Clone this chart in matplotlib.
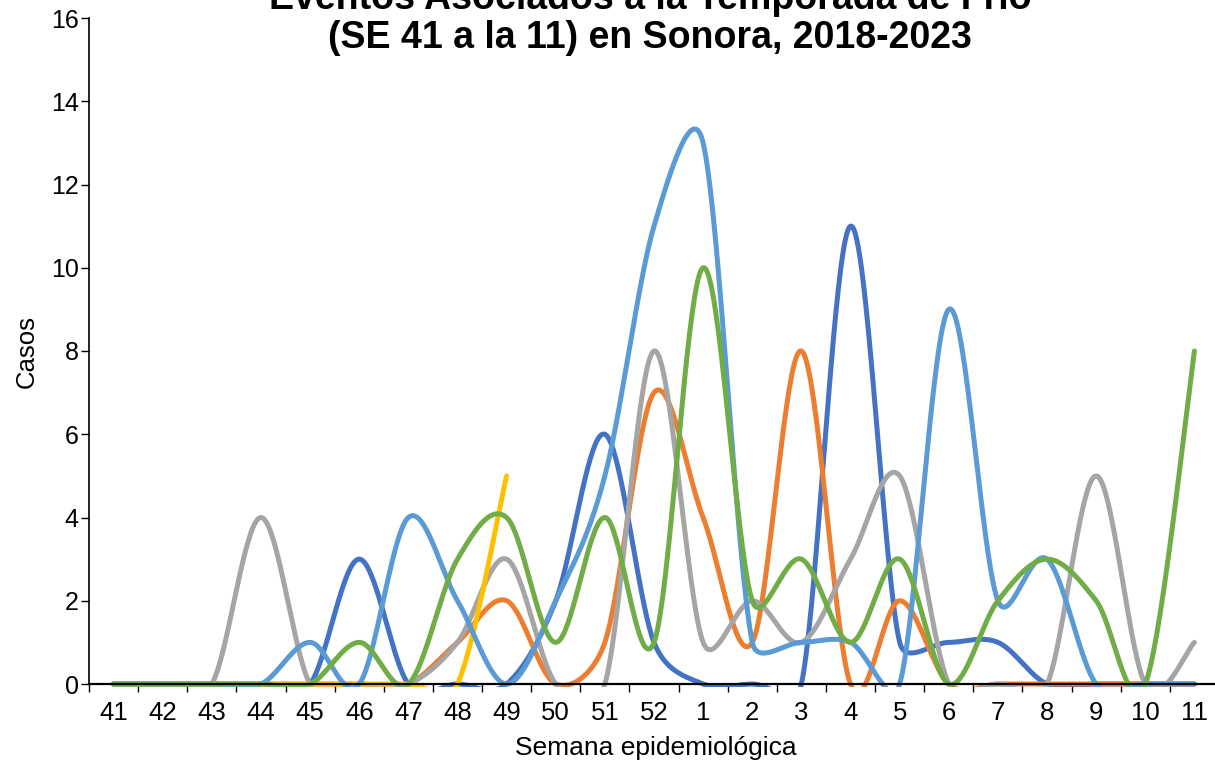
import numpy as np
import matplotlib.pyplot as plt
from matplotlib.patches import Rectangle

plt.rcParams['font.family'] = ['Liberation Sans', 'DejaVu Sans']

# Semanas epidemiológicas (SE 41 a la 11)
semanas = ['41', '42', '43', '44', '45', '46', '47', '48', '49', '50', '51', '52',
           '1', '2', '3', '4', '5', '6', '7', '8', '9', '10', '11']

# casos por temporada
casos_azul = [0, 0, 0, 0, 0, 3, 0, 0, 0, 2, 6, 1, 0, 0, 0, 11, 1, 1, 1, 0, 0, 0, 0]
casos_naranja = [0, 0, 0, 0, 0, 0, 0, 1, 2, 0, 1, 7, 4, 1, 8, 0, 2, 0, 0, 0, 0, 0, 0]
casos_gris = [0, 0, 0, 4, 0, 0, 0, 1, 3, 0, 0, 8, 1, 2, 1, 3, 5, 0, 0, 0, 5, 0, 1]
casos_amarillo = [0, 0, 0, 0, 0, 0, 0, 0, 5]
casos_celeste = [0, 0, 0, 0, 1, 0, 4, 2, 0, 2, 5, 11, 13, 1, 1, 1, 0, 9, 2, 3, 0, 0, 0]
casos_verde = [0, 0, 0, 0, 0, 1, 0, 3, 4, 1, 4, 1, 10, 2, 3, 1, 3, 0, 2, 3, 2, 0, 8]

series = [
    (casos_azul, '#4472C4'),
    (casos_naranja, '#ED7D31'),
    (casos_gris, '#A5A5A5'),
    (casos_amarillo, '#FFC000'),
    (casos_celeste, '#5B9BD5'),
    (casos_verde, '#70AD47'),
]

# el área de trazado sigue un poco más allá del borde derecho (imagen recortada)
ANCHO_EJE = 1130
ALTO_EJE = 666
PX_X = ANCHO_EJE / 23
PX_Y = ALTO_EJE / 16


def suavizar(y, pasos=40):
    # línea suavizada tipo Excel: Catmull-Rom en Bezier, con el brazo de
    # control limitado a la mitad del tramo
    p = np.column_stack([np.arange(len(y)) * PX_X, np.asarray(y, float) * PX_Y])
    n = len(p)
    trozos = []
    for i in range(n - 1):
        p0 = p[i - 1] if i > 0 else p[i]
        p1, p2 = p[i], p[i + 1]
        p3 = p[i + 2] if i + 2 < n else p[i + 1]
        d12 = np.hypot(*(p2 - p1))
        d02 = np.hypot(*(p2 - p0))
        d13 = np.hypot(*(p3 - p1))
        f1 = min(1 / 6, d12 / 2 / d02) if d02 > 0 else 0
        f2 = min(1 / 6, d12 / 2 / d13) if d13 > 0 else 0
        c1 = p1 + (p2 - p0) * f1
        c2 = p2 - (p3 - p1) * f2
        t = np.linspace(0, 1, pasos, endpoint=(i == n - 2))[:, None]
        b = (1 - t) ** 3 * p1 + 3 * (1 - t) ** 2 * t * c1 + 3 * (1 - t) * t ** 2 * c2 + t ** 3 * p2
        trozos.append(b)
    b = np.vstack(trozos)
    return b[:, 0] / PX_X, b[:, 1] / PX_Y


fig = plt.figure(figsize=(12.15, 7.62), dpi=100)
ax = fig.add_axes([89 / 1215, 1 - 684 / 762, ANCHO_EJE / 1215, ALTO_EJE / 762])

clip = Rectangle((-0.5, -0.07), 23, 17, transform=ax.transData)
for valores, color in series:
    xs, ys = suavizar(valores)
    linea, = ax.plot(xs, ys, color=color, lw=3.6, solid_capstyle='round')
    linea.set_clip_path(clip)

ax.set_xlim(-0.5, 22.5)
ax.set_ylim(0, 16)
ax.set_yticks(np.arange(0, 17, 2))
ax.set_xticks(np.arange(len(semanas)))
ax.set_xticklabels(semanas)
ax.set_xticks(np.arange(-0.5, 23, 1), minor=True)
ax.tick_params(axis='x', which='major', length=0, pad=12, labelsize=18.5)
ax.tick_params(axis='x', which='minor', length=6, width=1, direction='out')
ax.tick_params(axis='y', length=6, width=1, direction='out', pad=1.5, labelsize=18)

for lado in ['top', 'right']:
    ax.spines[lado].set_visible(False)
ax.spines['bottom'].set_linewidth(1.6)
ax.spines['left'].set_linewidth(1.2)

fig.text(650 / 1215, 1 - 9 / 762, 'Eventos Asociados a la Temporada de Frío',
         ha='center', va='baseline', fontsize=27, fontweight='bold')
fig.text(650 / 1215, 1 - 48 / 762, '(SE 41 a la 11) en Sonora, 2018-2023',
         ha='center', va='baseline', fontsize=27, fontweight='bold')
fig.text(27 / 1215, 1 - 352 / 762, 'Casos', rotation=90, ha='center', va='center', fontsize=18.5)
fig.text(656 / 1215, 1 - 748 / 762, 'Semana epidemiológica', ha='center', va='center', fontsize=19)

fig.savefig('out.png', dpi=100)
